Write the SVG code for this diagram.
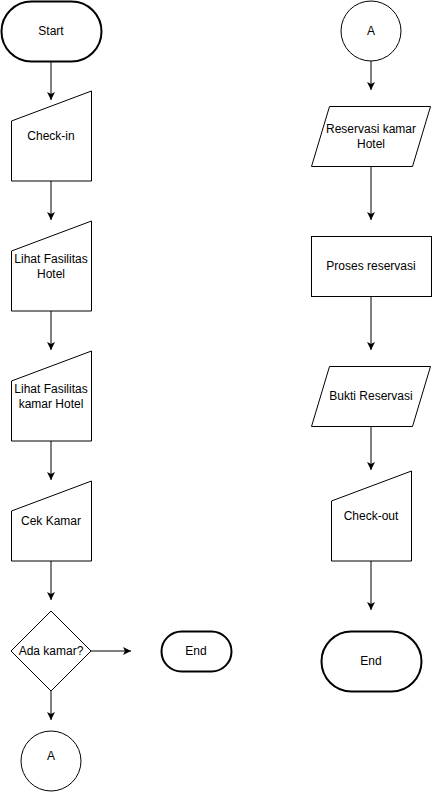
<svg xmlns="http://www.w3.org/2000/svg" width="432" height="792" viewBox="0 0 432 792">
<defs>
<style>
.s{fill:#fff;stroke:#000;stroke-width:1}
.t{fill:#fff;stroke:#000;stroke-width:2}
.c{fill:none;stroke:#000;stroke-width:1}
text{font-family:"Liberation Sans",Arial,sans-serif;font-size:12px;fill:#000;text-anchor:middle;dominant-baseline:central}
</style>
<marker id="ah" viewBox="0 0 10 10" refX="10" refY="5" markerWidth="8" markerHeight="8" markerUnits="userSpaceOnUse" orient="auto">
<path d="M0,0 L10,5 L0,10 L2.5,5 Z" fill="#000"/>
</marker>
</defs>
<rect width="432" height="792" fill="#fff"/>
<g id="connectors">
<line class="c" x1="51" y1="61" x2="51" y2="100" marker-end="url(#ah)"/>
<line class="c" x1="51" y1="181" x2="51" y2="220" marker-end="url(#ah)"/>
<line class="c" x1="51" y1="311" x2="51" y2="350" marker-end="url(#ah)"/>
<line class="c" x1="51" y1="441" x2="51" y2="480" marker-end="url(#ah)"/>
<line class="c" x1="51" y1="561" x2="51" y2="600" marker-end="url(#ah)"/>
<line class="c" x1="91" y1="651" x2="131" y2="651" marker-end="url(#ah)"/>
<line class="c" x1="51" y1="691" x2="51" y2="720" marker-end="url(#ah)"/>
<line class="c" x1="371" y1="61" x2="371" y2="90" marker-end="url(#ah)"/>
<line class="c" x1="371" y1="166" x2="371" y2="220" marker-end="url(#ah)"/>
<line class="c" x1="371" y1="296" x2="371" y2="350" marker-end="url(#ah)"/>
<line class="c" x1="371" y1="426" x2="371" y2="470" marker-end="url(#ah)"/>
<line class="c" x1="371" y1="561" x2="371" y2="610" marker-end="url(#ah)"/>
</g>
<g id="start">
<rect class="t" x="1.5" y="1.5" width="100" height="60" rx="30" ry="30"/>
<text x="51" y="31">Start</text>
</g>
<g id="checkin">
<path class="s" d="M11.5,121 L91.5,91 L91.5,181 L11.5,181 Z"/>
<text x="51" y="136">Check-in</text>
</g>
<g id="lihat-hotel">
<path class="s" d="M11.5,251 L91.5,221 L91.5,311 L11.5,311 Z"/>
<text x="51" y="259">Lihat Fasilitas</text>
<text x="51" y="274">Hotel</text>
</g>
<g id="lihat-kamar">
<path class="s" d="M11.5,381 L91.5,351 L91.5,441 L11.5,441 Z"/>
<text x="51" y="389">Lihat Fasilitas</text>
<text x="51" y="404">kamar Hotel</text>
</g>
<g id="cek-kamar">
<path class="s" d="M11.5,511 L91.5,481 L91.5,561 L11.5,561 Z"/>
<text x="51" y="521">Cek Kamar</text>
</g>
<g id="ada-kamar">
<path class="s" d="M51,611 L91,651 L51,691 L11,651 Z"/>
<text x="51" y="651">Ada kamar?</text>
</g>
<g id="end-left">
<rect class="t" x="161.5" y="631.5" width="70" height="40" rx="20" ry="20"/>
<text x="196" y="651">End</text>
</g>
<g id="a-left">
<circle class="s" cx="51" cy="761" r="30"/>
<text x="51" y="756">A</text>
</g>
<g id="a-right">
<circle class="s" cx="371" cy="31" r="30"/>
<text x="371" y="31">A</text>
</g>
<g id="reservasi">
<path class="s" d="M329.5,106.5 L430.5,106.5 L412.5,166.5 L311.5,166.5 Z"/>
<text x="371" y="129">Reservasi kamar</text>
<text x="371" y="144">Hotel</text>
</g>
<g id="proses">
<rect class="s" x="311.5" y="236.5" width="120" height="60"/>
<text x="371" y="266">Proses reservasi</text>
</g>
<g id="bukti">
<path class="s" d="M329.5,366.5 L430.5,366.5 L412.5,426.5 L311.5,426.5 Z"/>
<text x="371" y="396">Bukti Reservasi</text>
</g>
<g id="checkout">
<path class="s" d="M331.5,501 L411.5,471 L411.5,561 L331.5,561 Z"/>
<text x="371" y="516">Check-out</text>
</g>
<g id="end-right">
<rect class="t" x="321.5" y="631.5" width="100" height="60" rx="30" ry="30"/>
<text x="371" y="661">End</text>
</g>
</svg>
